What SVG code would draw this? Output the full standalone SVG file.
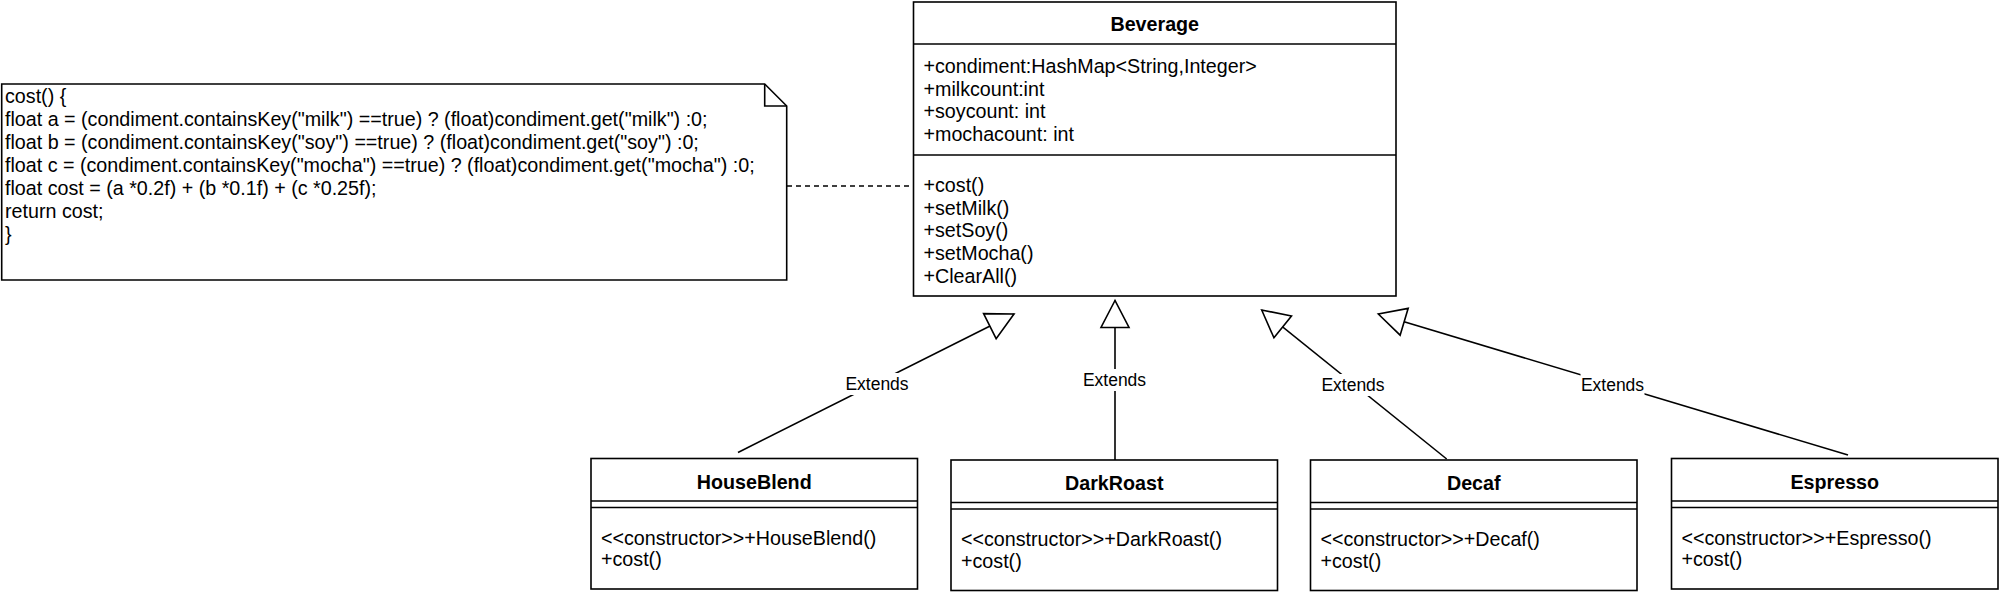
<svg xmlns="http://www.w3.org/2000/svg" width="2001" height="596" viewBox="0 0 2001 596">
<style>
.box{fill:#fff;stroke:#000;stroke-width:1.6}
.ln{stroke:#000;stroke-width:1.6;fill:none}
.t{font-family:"Liberation Sans",Arial,Helvetica,sans-serif;font-size:19.7px;fill:#000}
.b{font-weight:bold;text-anchor:middle}
.lbl{font-family:"Liberation Sans",Arial,Helvetica,sans-serif;font-size:17.5px;fill:#000;text-anchor:middle}
.lb{fill:#fff;stroke:none}
</style>
<defs>
<marker id="tri" markerUnits="userSpaceOnUse" markerWidth="32" markerHeight="32" viewBox="0 0 32 32" refX="29" refY="16" orient="auto">
<path d="M29,16 L2,2 L2,30 Z" fill="#fff" stroke="#000" stroke-width="1.6"/>
</marker>
</defs>
<rect width="2001" height="596" fill="#fff"/>

<g id="connectors">
<line class="ln" x1="787" y1="186" x2="913.5" y2="186" stroke-dasharray="5,4"/>
<line class="ln" x1="738" y1="452.5" x2="1014" y2="314" marker-end="url(#tri)"/>
<line class="ln" x1="1115" y1="460" x2="1115" y2="300.5" marker-end="url(#tri)"/>
<line class="ln" x1="1446.7" y1="459" x2="1261.7" y2="310" marker-end="url(#tri)"/>
<line class="ln" x1="1848" y1="455" x2="1378.3" y2="314" marker-end="url(#tri)"/>
<rect class="lb" x="845" y="373" width="64" height="22"/>
<text class="lbl" x="877" y="390">Extends</text>
<rect class="lb" x="1082.5" y="369" width="64" height="22"/>
<text class="lbl" x="1114.5" y="386">Extends</text>
<rect class="lb" x="1321" y="374" width="64" height="22"/>
<text class="lbl" x="1353" y="391">Extends</text>
<rect class="lb" x="1580.5" y="374" width="64" height="22"/>
<text class="lbl" x="1612.5" y="391">Extends</text>
</g>

<g id="note">
<path class="box" d="M1.7,84 L764.7,84 L786.7,106 L786.7,280 L1.7,280 Z"/>
<path class="ln" d="M764.7,84 L764.7,106 L786.7,106"/>
<text class="t" x="5" y="103">cost() {</text>
<text class="t" x="5" y="126">float a = (condiment.containsKey("milk") ==true) ? (float)condiment.get("milk") :0;</text>
<text class="t" x="5" y="149">float b = (condiment.containsKey("soy") ==true) ? (float)condiment.get("soy") :0;</text>
<text class="t" x="5" y="172">float c = (condiment.containsKey("mocha") ==true) ? (float)condiment.get("mocha") :0;</text>
<text class="t" x="5" y="195">float cost = (a *0.2f) + (b *0.1f) + (c *0.25f);</text>
<text class="t" x="5" y="218">return cost;</text>
<text class="t" x="5" y="241">}</text>
</g>

<g id="Beverage">
<rect class="box" x="913.5" y="2" width="482.5" height="294"/>
<line class="ln" x1="913.5" y1="44" x2="1396" y2="44"/>
<line class="ln" x1="913.5" y1="155" x2="1396" y2="155"/>
<text class="t b" x="1154.75" y="31">Beverage</text>
<text class="t" x="923.5" y="73">+condiment:HashMap&lt;String,Integer&gt;</text>
<text class="t" x="923.5" y="95.5">+milkcount:int</text>
<text class="t" x="923.5" y="118">+soycount: int</text>
<text class="t" x="923.5" y="141">+mochacount: int</text>
<text class="t" x="923.5" y="192">+cost()</text>
<text class="t" x="923.5" y="214.5">+setMilk()</text>
<text class="t" x="923.5" y="237">+setSoy()</text>
<text class="t" x="923.5" y="260">+setMocha()</text>
<text class="t" x="923.5" y="283">+ClearAll()</text>
</g>

<g id="HouseBlend">
<rect class="box" x="591" y="458.5" width="326.5" height="130.5"/>
<line class="ln" x1="591" y1="501" x2="917.5" y2="501"/>
<line class="ln" x1="591" y1="507.5" x2="917.5" y2="507.5"/>
<text class="t b" x="754.25" y="488.5">HouseBlend</text>
<text class="t" x="601" y="544.5">&lt;&lt;constructor&gt;&gt;+HouseBlend()</text>
<text class="t" x="601" y="566">+cost()</text>
</g>

<g id="DarkRoast">
<rect class="box" x="951" y="460" width="326.5" height="130.5"/>
<line class="ln" x1="951" y1="502.5" x2="1277.5" y2="502.5"/>
<line class="ln" x1="951" y1="509" x2="1277.5" y2="509"/>
<text class="t b" x="1114.25" y="490">DarkRoast</text>
<text class="t" x="961" y="546">&lt;&lt;constructor&gt;&gt;+DarkRoast()</text>
<text class="t" x="961" y="567.5">+cost()</text>
</g>

<g id="Decaf">
<rect class="box" x="1310.5" y="460" width="326.5" height="130.5"/>
<line class="ln" x1="1310.5" y1="502.5" x2="1637" y2="502.5"/>
<line class="ln" x1="1310.5" y1="509" x2="1637" y2="509"/>
<text class="t b" x="1473.75" y="490">Decaf</text>
<text class="t" x="1320.5" y="546">&lt;&lt;constructor&gt;&gt;+Decaf()</text>
<text class="t" x="1320.5" y="567.5">+cost()</text>
</g>

<g id="Espresso">
<rect class="box" x="1671.5" y="458.5" width="326.5" height="130.5"/>
<line class="ln" x1="1671.5" y1="501" x2="1998" y2="501"/>
<line class="ln" x1="1671.5" y1="507.5" x2="1998" y2="507.5"/>
<text class="t b" x="1834.75" y="488.5">Espresso</text>
<text class="t" x="1681.5" y="544.5">&lt;&lt;constructor&gt;&gt;+Espresso()</text>
<text class="t" x="1681.5" y="566">+cost()</text>
</g>
</svg>
